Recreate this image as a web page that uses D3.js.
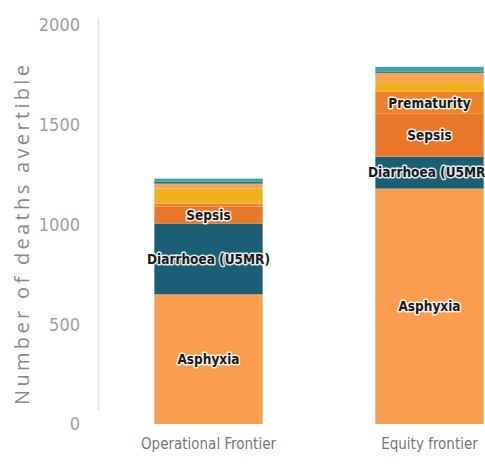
<!DOCTYPE html>
<html>
<head>
<meta charset="utf-8">
<script src="https://cdn.jsdelivr.net/npm/d3@7"></script>
<style>
  body { margin: 0; background: #fff; }
  svg { display: block; }
</style>
</head>
<body>
<svg id="chart" width="485" height="472"></svg>
<script>
// scenarios on the x axis
var scenarios = ["Operational Frontier", "Equity frontier"];

// causes, stacked bottom to top
var causes = ["Asphyxia", "Diarrhoea (U5MR)", "Sepsis", "Prematurity",
  "Pneumonia", "Congenital", "Injuries", "Other"];
var causeColors = ["#F99D4F", "#1A5F74", "#E8772A", "#EE8228",
  "#F1AF1C", "#F6A45A", "#2E6B7A", "#3FA3AB"];

// deaths avertible per cause, one array per scenario
var operationalValues = [650, 355, 85, 15, 75, 25, 10, 15];
var equityValues = [1180, 160, 215, 110, 50, 45, 5, 25];

// causes that get a label inside the bar
var labelledCauses = ["Asphyxia", "Diarrhoea (U5MR)", "Sepsis", "Prematurity"];

var yTicks = [0, 500, 1000, 1500, 2000];

var svg = d3.select("#chart");

// build the table for d3.stack
var table = scenarios.map(function(s, i) {
  var row = { scenario: s };
  var vals = i === 0 ? operationalValues : equityValues;
  causes.forEach(function(c, j) { row[c] = vals[j]; });
  return row;
});

var x = d3.scaleBand()
  .domain(scenarios)
  .range([98, 540])
  .paddingInner(0.51)
  .paddingOuter(0.255);

var y = d3.scaleLinear()
  .domain([0, 2000])
  .range([424, 25]);

var color = d3.scaleOrdinal().domain(causes).range(causeColors);

var series = d3.stack().keys(causes)(table);

// axis line
svg.append("line")
  .attr("x1", 98.5).attr("x2", 98.5)
  .attr("y1", y(2035)).attr("y2", y(70))
  .attr("stroke", "#e4e4e4")
  .attr("stroke-width", 1.5);

// y axis tick labels
var yAxis = svg.append("g")
  .attr("transform", "translate(98,0)")
  .call(d3.axisLeft(y).tickValues(yTicks).tickFormat(d3.format("d"))
    .tickSize(0).tickPadding(18));
yAxis.select(".domain").remove();
yAxis.selectAll("text")
  .attr("font-family", "'DejaVu Sans Condensed', 'DejaVu Sans'")
  .attr("font-size", 18)
  .attr("fill", "#a0a0a0");

// y axis title
svg.append("text")
  .attr("transform", "translate(29,235) rotate(-90)")
  .attr("text-anchor", "middle")
  .attr("font-family", "'Open Sans', sans-serif")
  .attr("font-size", 20)
  .attr("fill", "#8a8a8a")
  .attr("textLength", 340)
  .attr("lengthAdjust", "spacing")
  .text("Number of deaths avertible");

// bars
var layers = svg.append("g").selectAll("g")
  .data(series)
  .join("g")
  .attr("fill", function(d) { return color(d.key); });

layers.selectAll("rect")
  .data(function(d) { return d; })
  .join("rect")
  .attr("x", function(d) { return x(d.data.scenario); })
  .attr("y", function(d) { return y(d[1]); })
  .attr("width", x.bandwidth())
  .attr("height", function(d) { return y(d[0]) - y(d[1]); });

// labels inside bars
var labels = [];
series.forEach(function(s) {
  if (labelledCauses.indexOf(s.key) < 0) return;
  s.forEach(function(d) {
    if (d[1] - d[0] < 80) return;
    labels.push({ name: s.key, scenario: d.data.scenario, mid: (d[0] + d[1]) / 2 });
  });
});

svg.append("g").selectAll("text")
  .data(labels)
  .join("text")
  .attr("x", function(d) { return x(d.scenario) + x.bandwidth() / 2; })
  .attr("y", function(d) { return y(d.mid); })
  .attr("dy", "0.35em")
  .attr("text-anchor", "middle")
  .attr("font-family", "'DejaVu Sans Condensed', 'DejaVu Sans'")
  .attr("font-weight", "bold")
  .attr("font-size", 13.5)
  .attr("fill", "#1a1a1a")
  .attr("stroke", "rgba(255,255,255,0.85)")
  .attr("stroke-width", 3)
  .attr("stroke-linejoin", "round")
  .attr("paint-order", "stroke")
  .text(function(d) { return d.name; });

// category labels
svg.append("g").selectAll("text")
  .data(scenarios)
  .join("text")
  .attr("x", function(d) { return x(d) + x.bandwidth() / 2; })
  .attr("y", 449)
  .attr("text-anchor", "middle")
  .attr("font-family", "'DejaVu Sans Condensed', 'DejaVu Sans'")
  .attr("font-size", 15)
  .attr("fill", "#777")
  .text(function(d) { return d; });
</script>
</body>
</html>
